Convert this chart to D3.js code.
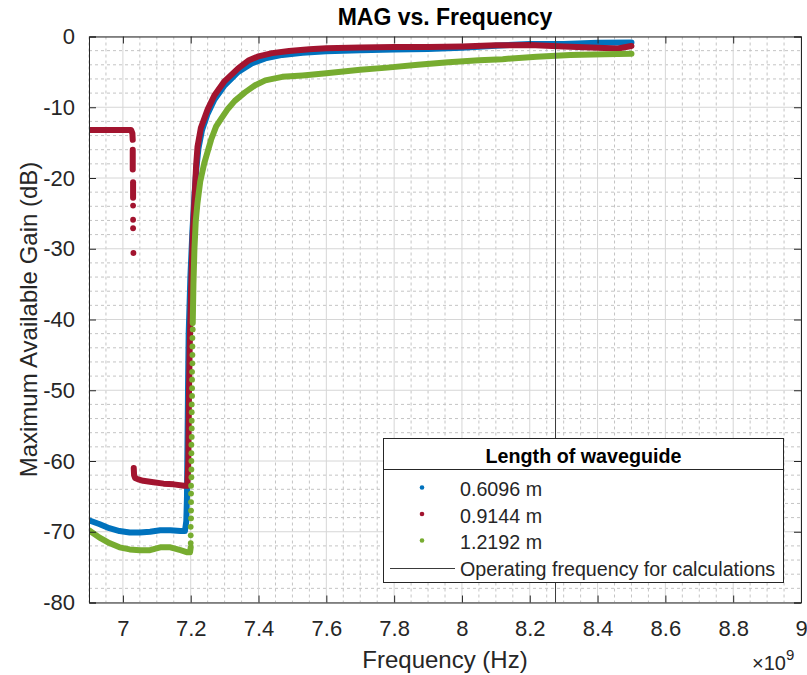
<!DOCTYPE html>
<html>
<head>
<meta charset="utf-8">
<script src="https://cdn.jsdelivr.net/npm/d3@7/dist/d3.min.js"></script>
<style>
body{margin:0;background:#fff;}
text{font-family:"Liberation Sans",Arial,Helvetica,sans-serif;fill:#262626;}
</style>
</head>
<body>
<svg id="chart" width="807" height="675"></svg>
<script>
// axis ticks (frequency in units of 1e9 Hz)
var xTicks = [7, 7.2, 7.4, 7.6, 7.8, 8, 8.2, 8.4, 8.6, 8.8, 9];
var yTicks = [0, -10, -20, -30, -40, -50, -60, -70, -80];
var xDomain = [6.9, 9], yDomain = [-80, 0];

var seriesNames = ["0.6096 m", "0.9144 m", "1.2192 m"];
var seriesColors = ["#0072BD", "#A2142F", "#77AC30"];
var operatingFreq = 8.276;
var operatingLabel = "Operating frequency for calculations";

// 0.6096 m
var blueSegments = [
  [[6.9,-68.4],[6.93,-68.9],[6.96,-69.5],[6.99,-69.9],[7.02,-70.1],[7.05,-70.1],[7.08,-70.0],[7.11,-69.8],
   [7.14,-69.8],[7.17,-69.9],[7.183,-69.9],[7.187,-68.5],[7.189,-65],[7.19,-60],[7.192,-50],[7.194,-42],
   [7.199,-34],[7.205,-27.5],[7.211,-22.5],[7.217,-18.5],[7.223,-15.8],[7.233,-13.3],[7.25,-10.9],[7.27,-8.9],
   [7.30,-6.9],[7.34,-5.0],[7.38,-3.8],[7.42,-3.1],[7.47,-2.6],[7.53,-2.3],[7.6,-2.1],[7.7,-1.95],[7.8,-1.85],
   [7.9,-1.75],[8.0,-1.6],[8.1,-1.3],[8.2,-1.05],[8.3,-1.05],[8.4,-0.9],[8.5,-0.85]]
];
var blueDots = [];

// 0.9144 m
var redSegments = [
  [[6.9,-13.2],[6.96,-13.2],[7.0,-13.2],[7.024,-13.2],[7.028,-13.7],[7.029,-14.6]],
  [[7.029,-16.0],[7.029,-18.8]],
  [[7.03,-20.6],[7.03,-22.8]],
  [[7.032,-61.0],[7.033,-62.0],[7.036,-62.4],[7.045,-62.6],[7.06,-62.8],[7.09,-63.0],[7.12,-63.2],[7.15,-63.3],
   [7.18,-63.5],[7.19,-63.5],[7.193,-60],[7.195,-50],[7.197,-44],[7.201,-36],[7.206,-28],[7.211,-23.2],
   [7.216,-18.2],[7.22,-15.6],[7.23,-12.9],[7.25,-10.3],[7.27,-8.3],[7.30,-6.3],[7.34,-4.5],[7.37,-3.4],
   [7.40,-2.8],[7.44,-2.35],[7.49,-2.05],[7.55,-1.8],[7.6,-1.65],[7.7,-1.55],[7.8,-1.5],[7.9,-1.5],[8.0,-1.4],
   [8.1,-1.25],[8.2,-1.2],[8.3,-1.4],[8.4,-1.6],[8.46,-1.7],[8.5,-1.35]]
];
var redDots = [[7.03,-23.9],[7.03,-25.9],[7.03,-27.1],[7.031,-30.6]];

// 1.2192 m
var greenSegments = [
  [[6.9,-69.8],[6.93,-70.8],[6.96,-71.6],[6.99,-72.2],[7.02,-72.5],[7.05,-72.6],[7.08,-72.6],[7.11,-72.2],
   [7.14,-72.2],[7.17,-72.6],[7.19,-72.9],[7.198,-72.9],[7.2,-72.2]],
  [[7.206,-40.5],[7.208,-35],[7.211,-30],[7.215,-26],[7.22,-23.5],[7.228,-20.5],[7.24,-17.9],[7.26,-14.6],
   [7.275,-12.7],[7.29,-11.6],[7.31,-10.2],[7.33,-9.1],[7.36,-7.9],[7.39,-6.9],[7.42,-6.2],[7.47,-5.7],
   [7.53,-5.5],[7.6,-5.2],[7.7,-4.7],[7.78,-4.4],[7.87,-4.0],[7.96,-3.65],[8.05,-3.35],[8.12,-3.2],
   [8.22,-2.85],[8.32,-2.6],[8.42,-2.5],[8.5,-2.45]]
];
var greenDots = [[7.200,-71.6],[7.200,-70.5],[7.200,-69.3],[7.201,-68.1],[7.201,-67.0],[7.201,-65.8],
  [7.201,-64.6],[7.201,-63.5],[7.202,-62.3],[7.202,-61.2],[7.202,-60.0],[7.202,-58.9],[7.202,-57.7],
  [7.203,-56.6],[7.203,-55.4],[7.203,-54.3],[7.203,-53.1],[7.203,-52.0],[7.204,-50.8],[7.204,-49.7],
  [7.204,-48.5],[7.204,-47.4],[7.205,-46.2],[7.205,-45.0],[7.205,-43.8],[7.205,-42.6],[7.206,-41.4]];

var allSegments = [blueSegments, redSegments, greenSegments];
var allDots = [blueDots, redDots, greenDots];

// plot box (window.top is reserved, so prefix these)
var plotLeft = 89, plotRight = 801, plotTop = 36.5, plotBottom = 602.5;
var svg = d3.select("svg#chart");

var xScale = d3.scaleLinear().domain(xDomain).range([plotLeft, plotRight]);
var yScale = d3.scaleLinear().domain(yDomain).range([plotBottom, plotTop]);

//#region grid
var xMinor = d3.range(6.9, 9.001, 0.05).filter(function(v){
    return Math.abs(v*5 - Math.round(v*5)) > 1e-6;
});
var yMinor = d3.range(-80, 0.001, 2).filter(function(v){ return v % 10 != 0; });

svg.append("g").selectAll("line")
    .data(xMinor)
    .join("line")
    .attr("x1", function(d){ return xScale(d); })
    .attr("x2", function(d){ return xScale(d); })
    .attr("y1", plotTop).attr("y2", plotBottom)
    .attr("stroke", "#c4c4c4").attr("stroke-dasharray", "3,3");

svg.append("g").selectAll("line")
    .data(yMinor)
    .join("line")
    .attr("y1", function(d){ return yScale(d); })
    .attr("y2", function(d){ return yScale(d); })
    .attr("x1", plotLeft).attr("x2", plotRight)
    .attr("stroke", "#c4c4c4").attr("stroke-dasharray", "3,3");

svg.append("g").selectAll("line")
    .data(xTicks)
    .join("line")
    .attr("x1", function(d){ return xScale(d); })
    .attr("x2", function(d){ return xScale(d); })
    .attr("y1", plotTop).attr("y2", plotBottom)
    .attr("stroke", "#d6d6d6");

svg.append("g").selectAll("line")
    .data(yTicks)
    .join("line")
    .attr("y1", function(d){ return yScale(d); })
    .attr("y2", function(d){ return yScale(d); })
    .attr("x1", plotLeft).attr("x2", plotRight)
    .attr("stroke", "#d6d6d6");
//#endregion

//#region series
svg.append("clipPath").attr("id", "plotclip")
    .append("rect")
    .attr("x", plotLeft).attr("y", plotTop)
    .attr("width", plotRight - plotLeft).attr("height", plotBottom - plotTop);

var plot = svg.append("g").attr("clip-path", "url(#plotclip)");

var line = d3.line()
    .x(function(d){ return xScale(d[0]); })
    .y(function(d){ return yScale(d[1]); });

allSegments.forEach(function(segs, i){
    plot.append("g").selectAll("path")
        .data(segs)
        .join("path")
        .attr("d", line)
        .attr("fill", "none")
        .attr("stroke", seriesColors[i])
        .attr("stroke-width", 6)
        .attr("stroke-linejoin", "round")
        .attr("stroke-linecap", "round");

    plot.append("g").selectAll("circle")
        .data(allDots[i])
        .join("circle")
        .attr("cx", function(d){ return xScale(d[0]); })
        .attr("cy", function(d){ return yScale(d[1]); })
        .attr("r", 2.9)
        .attr("fill", seriesColors[i]);
});

// operating frequency marker
svg.append("line")
    .attr("x1", xScale(operatingFreq)).attr("x2", xScale(operatingFreq))
    .attr("y1", plotTop).attr("y2", plotBottom)
    .attr("stroke", "#3a3a3a").attr("stroke-width", 1);
//#endregion

//#region axes
// plain hyphen minus like the original, not d3's unicode minus
function plainNum(d){ return String(+d.toFixed(1)); }

var xAxis = d3.axisBottom(xScale).tickValues(xTicks).tickSize(-7).tickPadding(18).tickFormat(plainNum);
var xAxisTop = d3.axisTop(xScale).tickValues(xTicks).tickSize(-7).tickFormat("");
var yAxis = d3.axisLeft(yScale).tickValues(yTicks).tickSize(-7).tickPadding(14).tickFormat(plainNum);
var yAxisRight = d3.axisRight(yScale).tickValues(yTicks).tickSize(-7).tickFormat("");

function styleAxis(g){
    g.select(".domain").attr("stroke", "#262626");
    g.selectAll(".tick line").attr("stroke", "#262626");
    g.selectAll(".tick text").attr("fill", "#262626")
        .style("font-size", "22px")
        .style("font-family", "'Liberation Sans', Arial, sans-serif");
}

svg.append("g").attr("transform", "translate(0," + plotBottom + ")").call(xAxis).call(styleAxis);
svg.append("g").attr("transform", "translate(0," + plotTop + ")").call(xAxisTop).call(styleAxis);
svg.append("g").attr("transform", "translate(" + plotLeft + ",0)").call(yAxis).call(styleAxis);
svg.append("g").attr("transform", "translate(" + plotRight + ",0)").call(yAxisRight).call(styleAxis);

// exponent
var expo = svg.append("text").attr("x", 752).attr("y", 670).style("font-size", "20px");
expo.append("tspan").text("\u00d710");
expo.append("tspan").attr("dy", -10).style("font-size", "15px").text("9");
//#endregion

//#region labels
svg.append("text")
    .attr("x", (plotLeft + plotRight) / 2).attr("y", 25)
    .attr("text-anchor", "middle")
    .style("font-size", "23px").style("font-weight", "bold")
    .style("fill", "#000")
    .text("MAG vs. Frequency");

svg.append("text")
    .attr("x", (plotLeft + plotRight) / 2).attr("y", 668)
    .attr("text-anchor", "middle")
    .style("font-size", "24px")
    .text("Frequency (Hz)");

svg.append("text")
    .attr("transform", "translate(37," + ((plotTop + plotBottom) / 2) + ")rotate(-90)")
    .attr("text-anchor", "middle")
    .style("font-size", "24px")
    .text("Maximum Available Gain (dB)");
//#endregion

//#region legend
var lg = svg.append("g");
lg.append("rect")
    .attr("x", 383.5).attr("y", 438.5).attr("width", 400).attr("height", 144)
    .attr("fill", "#fff").attr("stroke", "#262626");
lg.append("line")
    .attr("x1", 383.5).attr("x2", 783.5).attr("y1", 469.5).attr("y2", 469.5)
    .attr("stroke", "#262626");
lg.append("text")
    .attr("x", 583.5).attr("y", 463)
    .attr("text-anchor", "middle")
    .style("font-size", "19.7px").style("font-weight", "bold").style("fill", "#000")
    .text("Length of waveguide");

var rowY = [496, 522.5, 549];
lg.selectAll("circle.key")
    .data(seriesNames)
    .join("circle")
    .attr("class", "key")
    .attr("cx", 422)
    .attr("cy", function(d, i){ return rowY[i] - 8.5; })
    .attr("r", 2.3)
    .attr("fill", function(d, i){ return seriesColors[i]; });

lg.selectAll("text.key")
    .data(seriesNames)
    .join("text")
    .attr("class", "key")
    .attr("x", 460)
    .attr("y", function(d, i){ return rowY[i]; })
    .style("font-size", "19.7px")
    .text(function(d){ return d; });

lg.append("line")
    .attr("x1", 390).attr("x2", 455).attr("y1", 568.5).attr("y2", 568.5)
    .attr("stroke", "#3a3a3a");
lg.append("text")
    .attr("x", 460).attr("y", 575.5)
    .style("font-size", "19.7px")
    .text(operatingLabel);
//#endregion
</script>
</body>
</html>
